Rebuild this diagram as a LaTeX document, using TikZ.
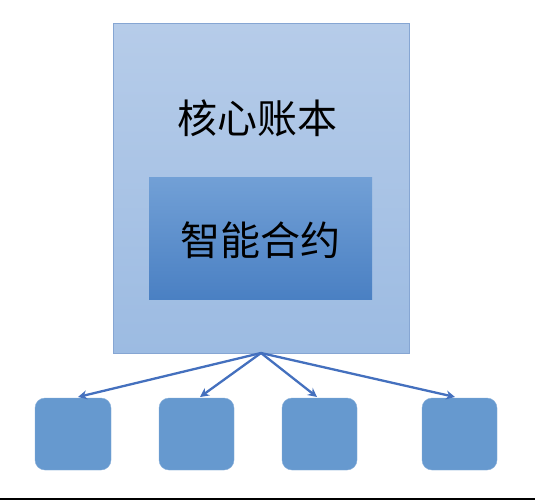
\documentclass[tikz,border=0pt]{standalone}
\usepackage{fontspec}
\newfontfamily\cjk{Noto Sans CJK SC}
\usetikzlibrary{arrows.meta}
\definecolor{outerTop}{HTML}{B6CCE9}
\definecolor{outerBot}{HTML}{9CBBE2}
\definecolor{outerLine}{HTML}{86A6D3}
\definecolor{innerTop}{HTML}{72A0D6}
\definecolor{innerBot}{HTML}{4A80C3}
\definecolor{leafFill}{HTML}{6699CF}
\definecolor{arrowCol}{HTML}{4470BE}
\tikzset{
  ledger/.style={draw=outerLine, line width=1pt, top color=outerTop, bottom color=outerBot},
  contract/.style={draw=none, top color=innerTop, bottom color=innerBot},
  leaf/.style={fill=leafFill, draw=leafFill!80!white, rounded corners=10pt},
  link/.style={draw=arrowCol, line width=2.3pt, -{Stealth[length=9pt,width=9pt]}},
  lbl/.style={font=\cjk\fontsize{40}{44}\selectfont, text=black}
}
\begin{document}
\begin{tikzpicture}[x=1pt,y=-1pt]
\useasboundingbox (0,0) rectangle (535,500);
\fill[white] (0,0) rectangle (535,500);
\draw[black, line width=2pt] (0,499) -- (535,499);
% outer ledger box
\path[ledger] (113,24) rectangle (409,353);
\node[lbl] (ledgerText) at (257,118) {核心账本};
% inner contract box
\path[contract] (149,177) rectangle (372,299);
\node[lbl] (contractText) at (260,240) {智能合约};
% hub coordinate
\coordinate (hub) at (261,353);
% leaves
\path[leaf] (35,398) rectangle (111,470);
\path[leaf] (159,398) rectangle (234,470);
\path[leaf] (282,398) rectangle (357,470);
\path[leaf] (422,398) rectangle (497,470);
\coordinate (t1) at (78,397);
\coordinate (t2) at (200,397);
\coordinate (t3) at (317,397);
\coordinate (t4) at (455,397);
\draw[link] (hub) -- (t1);
\draw[link] (hub) -- (t2);
\draw[link] (hub) -- (t3);
\draw[link] (hub) -- (t4);
\end{tikzpicture}
\end{document}
